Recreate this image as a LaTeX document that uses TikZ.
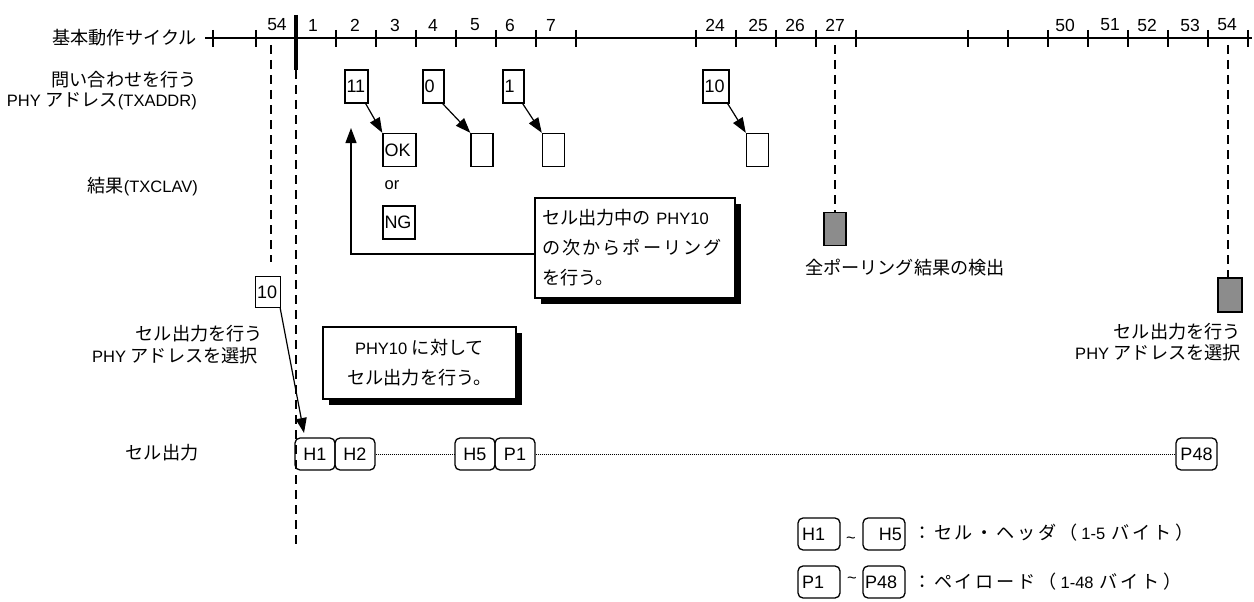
\documentclass[tikz,border=0pt]{standalone}
\usepackage{fontspec}
\setmainfont{Liberation Sans}
\newfontfamily\jp[Scale=1.1]{Noto Sans CJK JP}
\newfontfamily\jpw[Scale=1.1,LetterSpace=15]{Noto Sans CJK JP}
\usetikzlibrary{arrows.meta,shadows}
\begin{document}
\begin{tikzpicture}[x=1pt,y=-1pt,
  txt/.style={font=\fontsize{16.5}{19}\selectfont, inner sep=0pt},
  num/.style={font=\fontsize{17.5}{19}\selectfont, inner sep=0pt},
  pbox/.style={draw, line width=1.4pt, inner xsep=1.5pt, inner ysep=0pt, minimum height=33pt, font=\fontsize{18}{19}\selectfont},
  gbox/.style={draw, line width=1.4pt, fill=black!45, minimum width=22pt, minimum height=33pt, inner sep=0pt},
  cbox/.style={draw, rounded corners=5pt, line width=1.3pt, minimum width=40pt, minimum height=32pt, inner sep=0pt, font=\fontsize{18}{19}\selectfont},
  callout/.style={draw, line width=1.3pt, fill=white, inner sep=0pt,
     drop shadow={shadow xshift=6pt, shadow yshift=-6pt, fill=black, opacity=1}},
  arr/.style={-{Triangle[length=15pt,width=11pt]}, line width=1.2pt},
  dsh/.style={line width=1.6pt, dash pattern=on 9pt off 6pt},
  dtt/.style={line width=1pt, dash pattern=on 1pt off 1pt}]
\useasboundingbox (0,0) rectangle (1254,602);

% timeline
\draw[line width=1.8pt] (205,38) -- (1252,38);
\foreach \x in {213,256,336,376,416,456,496,536,576,696,736,776,816,856,968,1008,1048,1088,1128,1168,1208,1248}
  \draw[line width=1.6pt] (\x,30) -- (\x,47);
\draw[line width=4pt] (296,15) -- (296,70);
\foreach \x/\t in {277/54,313/1,355/2,395/3,433/4,475/5,510/6,551/7,715/24,758/25,795/26,835/27,1065/50,1110/51,1147/52,1190/53,1227/54}
  \node[num] (n\t-\x) at (\x,25) {\t};

% left labels
\node[txt, anchor=east] (l1) at (197,38) {\jp 基本動作サイクル};
\node[txt, anchor=east] (l2) at (197,80) {\jp 問い合わせを行う};
\node[txt, anchor=east] (l3) at (197,101) {PHY {\jp アドレス}(TXADDR)};
\node[txt, anchor=east] (l4) at (198,187) {{\jp 結果}(TXCLAV)};
\node[txt, anchor=east] (l5) at (263,334) {\jp セル出力を行う};
\node[txt, anchor=east] (l6) at (258,356) {PHY {\jp アドレスを選択}};
\node[txt] (l7) at (162,453) {\jp セル出力};

% dashed guides
\draw[dsh] (296,70) -- (296,548);
\draw[dsh] (271,45) -- (271,262);

% polling boxes
\node[pbox, text width=20pt, align=left] (a11) at (356.5,86.5) {11};
\node[pbox, text width=18pt, align=left] (a0) at (433.5,86.5) {0};
\node[pbox, text width=18pt, align=left] (a1) at (513.5,86.5) {1};
\node[pbox, text width=23pt, align=left] (a10) at (716,86.5) {10};

\node[pbox, text width=30pt, align=left] (ok) at (399.5,150) {OK};
\node[pbox, text width=19pt] (r0) at (482,150) {};
\node[pbox, text width=19pt] (r1) at (553.5,150) {};
\node[pbox, text width=19pt] (r10) at (757.5,150) {};
\node[txt] (or) at (392,185) {or};
\node[pbox, text width=29pt, align=left] (ng) at (399,222.5) {NG};

\draw[arr] ([xshift=-3pt]a11.south east) -- (ok.north west);
\draw[arr] ([xshift=-2pt]a0.south east) -- (r0.north west);
\draw[arr] ([xshift=-2pt]a1.south east) -- (r1.north west);
\draw[arr] ([xshift=-2pt]a10.south east) -- (r10.north west);

% callout 1
\node[callout, minimum width=200pt, minimum height=100pt, text width=186pt, align=left,
  font=\fontsize{16.5}{30}\selectfont] (c1) at (635,248)
  {{\jp セル出力中の} PHY10\\
   \makebox[180pt][l]{\jp の\hfill 次\hfill か\hfill ら\hfill ポ\hfill ー\hfill リ\hfill ン\hfill グ}\\
   {\jp を行う。}};
\coordinate (up) at (351,128);
\draw[arr] ([yshift=-6pt]c1.west) -| (up);

% result detection
\node[gbox] (g1) at (835,229) {};
\draw[dsh] (835,45) -- (g1.north);
\node[txt] (l8) at (905,268) {\jp 全ポーリング結果の検出};

\node[gbox, minimum width=24pt, minimum height=34pt] (g2) at (1230,295) {};
\draw[dsh] (1228,45) -- (1228,278);
\node[txt, anchor=east] (l9) at (1241,332) {\jp セル出力を行う};
\node[txt, anchor=east] (l10) at (1241,353) {PHY {\jp アドレスを選択}};

% selected address
\node[pbox, text width=22pt, align=left, minimum height=31pt] (s10) at (268,292) {10};
\coordinate (tip) at (304,433);
\draw[arr] ([xshift=-1pt]s10.south east) -- (tip);

% callout 2
\node[callout, minimum width=193pt, minimum height=72pt, align=center,
  font=\fontsize{16.5}{30}\selectfont] (c2) at (419.5,363)
  {PHY10 {\jp に対して}\\{\jp セル出力を行う。}};

% cell output
\node[cbox] (h1) at (315,454) {H1};
\node[cbox] (h2) at (355,454) {H2};
\node[cbox] (h5) at (475,454) {H5};
\node[cbox] (p1) at (515,454) {P1};
\node[cbox, minimum width=41pt] (p48) at (1196.5,454) {P48};
\draw[dtt] (h2.east) -- (h5.west);
\draw[dtt] (p1.east) -- (p48.west);

% legend
\node[cbox, minimum width=42pt, text width=34pt, align=left] (lh1) at (819,534) {H1};
\node[txt] (t1) at (851,540) {\textasciitilde};
\node[cbox, minimum width=42pt, text width=36pt, align=right] (lh5) at (884,534) {H5};
\node[txt, anchor=west] (d1) at (913,533)
  {{\jpw ：セル・ヘッダ（}\hspace{4pt}1-5\hspace{6pt}{\jpw バイト}\hspace{4pt}{\jpw ）}};
\node[cbox, minimum width=42pt, text width=34pt, align=left] (lp1) at (819,582) {P1};
\node[txt] (t2) at (852,580) {\textasciitilde};
\node[cbox, minimum width=42pt, text width=38pt, align=left] (lp48) at (884,582) {P48};
\node[txt, anchor=west] (d2) at (913,582)
  {{\jpw ：ペイロード（}\hspace{4pt}1-48\hspace{6pt}{\jpw バイト}\hspace{4pt}{\jpw ）}};
\end{tikzpicture}
\end{document}
